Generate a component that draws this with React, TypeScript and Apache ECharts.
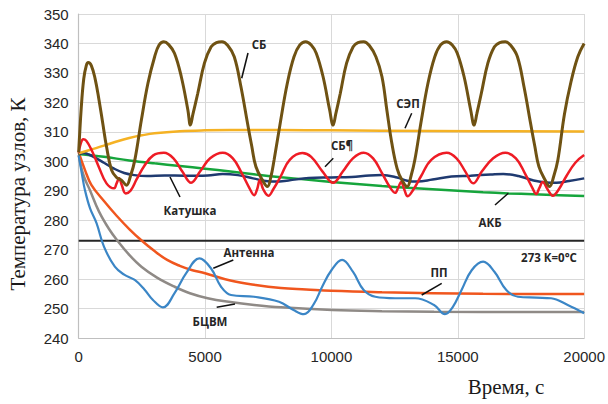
import React, { useEffect, useRef } from "react";
import * as echarts from "echarts";

const xTicks = [0, 5000, 10000, 15000, 20000];
const yTicks = [240, 350, 10];

const sbData = [
  [0, 303], [100, 318], [200, 328], [300, 332.5], [378, 333.5], [500, 332.5], [650, 328], [800, 321], [950, 313],
  [1100, 305], [1300, 297], [1500, 294.5], [1690, 293.6], [1890, 291.9], [2050, 295], [2220, 300.4], [2480, 314],
  [2740, 326.5], [3005, 335.5], [3180, 339.5], [3370, 340.6], [3560, 339.6], [3790, 336.7], [4060, 328.7],
  [4320, 317.4], [4420, 312.3], [4520, 316], [4710, 323], [4975, 333.3], [5240, 338.9], [5450, 340.3], [5670, 340.6],
  [5900, 339.3], [6155, 335.5], [6420, 325.3], [6680, 312.9], [6850, 305], [7010, 298.2], [7270, 293.6], [7468, 291.4],
  [7600, 294.5], [7731, 300.4], [7995, 314], [8255, 326.5], [8519, 335.5], [8750, 339.5], [8980, 340.6], [9200, 339.5],
  [9400, 336.7], [9670, 328.7], [9930, 317.4], [10067, 312.3], [10170, 316], [10350, 323], [10600, 333.3],
  [10860, 338.9], [11050, 340.3], [11276, 340.6], [11500, 339.3], [11760, 335.5], [12000, 328.7], [12200, 317],
  [12391, 306.1], [12600, 297.5], [12780, 293.8], [13000, 291.4], [13150, 295], [13300, 300.4], [13560, 314],
  [13820, 326.5], [14090, 335.5], [14320, 339.5], [14557, 340.6], [14780, 339.5], [14980, 336.7], [15250, 328.7],
  [15510, 317.4], [15648, 312.3], [15750, 316], [15930, 323], [16190, 333.3], [16450, 338.9], [16660, 340.3],
  [16881, 340.6], [17100, 339.3], [17360, 335.5], [17620, 325.3], [17880, 312.9], [18050, 305], [18210, 298.2],
  [18460, 293.6], [18630, 291.4], [18800, 295], [18960, 300.4], [19220, 316], [19480, 327], [19750, 335.5], [20000, 340],
];

const sepData = [
  [0, 302.7], [500, 304], [1000, 305.3], [1500, 306.7], [2000, 307.9], [2500, 308.8], [3000, 309.5], [4000, 310.2],
  [5000, 310.5], [6000, 310.6], [8000, 310.6], [10000, 310.5], [14000, 310.3], [20000, 310.1],
];

const sb2Data = [
  [0, 303], [80, 306], [180, 307.5], [300, 307], [500, 304], [800, 298], [1100, 292.5], [1400, 290.8], [1500, 292.5],
  [1600, 294.2], [1700, 292], [1863, 289.1], [2050, 290], [2300, 294], [2600, 298.5], [2950, 302], [3371, 302.9],
  [3750, 301], [4100, 296.5], [4450, 292.7], [4800, 296.5], [5200, 301], [5700, 302.9], [6100, 301], [6450, 296],
  [6750, 291], [6944, 288.5], [7060, 290.5], [7168, 293.6], [7300, 290.5], [7507, 288.3], [7700, 290.5], [8000, 295],
  [8350, 300.5], [8850, 302.8], [9200, 301.5], [9650, 296.5], [10067, 292.7], [10450, 296.5], [10850, 301],
  [11276, 302.9], [11650, 301], [12000, 296], [12330, 291], [12524, 289.3], [12640, 291], [12760, 293], [12880, 290.5],
  [13020, 288.1], [13250, 290.5], [13550, 295], [13950, 300.5], [14557, 302.9], [14950, 301], [15300, 296.5],
  [15610, 292.5], [15950, 296.5], [16400, 301], [16881, 302.9], [17300, 301], [17650, 296], [17950, 291], [18102, 288.9],
  [18230, 291], [18365, 293], [18550, 290.5], [18759, 288.3], [19000, 290.5], [19300, 295], [19650, 299.5], [20000, 302.1],
];

const coilData = [
  [0, 302.3], [200, 302.8], [400, 302.3], [700, 301], [1000, 299.5], [1400, 297.5], [1800, 296], [2200, 295.3],
  [2700, 295], [3400, 295.2], [4200, 295.1], [5100, 295.2], [5700, 295.7], [6300, 295.3], [6900, 294.2], [7400, 293.3],
  [7800, 293.1], [8300, 293.5], [9110, 294.3], [10000, 294.5], [10800, 294.7], [11500, 295.2], [12000, 295.3],
  [12600, 294.5], [13000, 293.4], [13400, 293.1], [14000, 293.8], [14750, 294.8], [15500, 295.1], [16300, 295.5],
  [16800, 295.7], [17400, 295], [18000, 293.5], [18500, 292.8], [18900, 292.7], [19400, 293.3], [20000, 294.2],
];

const akbData = [
  [0, 302.5], [1000, 301.5], [2000, 300.3], [3000, 299.3], [4000, 298.4], [5000, 297.5], [6000, 296.5], [7000, 295.5],
  [8000, 294.6], [9000, 293.8], [10000, 293], [11000, 292.3], [12000, 291.6], [13000, 291], [14000, 290.5],
  [15000, 290], [16000, 289.5], [17000, 289.1], [18000, 288.8], [19000, 288.5], [20000, 288.2],
];

const ppData = [
  [0, 303], [250, 297], [500, 292], [1000, 286.5], [1500, 281.5], [2000, 277], [2500, 273], [3000, 269.5],
  [3500, 266.5], [4000, 264.5], [4500, 263], [5000, 262], [6000, 259.5], [7000, 258], [8000, 257], [9000, 256.5],
  [10000, 256], [12000, 255.5], [14000, 255.2], [16000, 255], [20000, 254.9],
];

const antennaData = [
  [0, 302], [120, 296], [248, 290.2], [450, 284], [709, 278.9], [1000, 271], [1430, 264.2], [1800, 261.5],
  [2217, 259.7], [2600, 256.5], [2939, 252.9], [3332, 250.4], [3793, 255.2], [4254, 262], [4777, 267], [5238, 263.6],
  [5632, 257.4], [6026, 254.6], [6944, 254], [7928, 252.3], [8500, 249.5], [8913, 248.1], [9300, 251.5],
  [9634, 257.4], [10000, 263], [10421, 266.5], [10850, 262.5], [11276, 256.3], [11737, 254], [12524, 253.5],
  [13312, 253.5], [14061, 251.2], [14494, 248.1], [14800, 250.5], [15150, 256.3], [15550, 263], [16003, 265.9],
  [16450, 262.5], [16920, 256.3], [17381, 254], [18100, 253.7], [18693, 253.5], [19350, 251.2], [20000, 248.4],
];

const bcvmData = [
  [0, 302], [200, 295], [445, 290.2], [800, 283], [1200, 277], [1536, 273], [2000, 268.2], [2481, 264.2],
  [3100, 260.5], [3793, 257.4], [4400, 255.2], [5104, 253.5], [6000, 252.2], [6944, 251.2], [8000, 250.4],
  [10028, 249.5], [12000, 249.1], [14061, 248.9], [20000, 248.8],
];

const zeroLine = [[0, 273], [20000, 273]];

const seriesNames = ["273 К=0°С", "БЦВМ", "ПП", "Антенна", "АКБ", "Катушка", "СЭП", "СБ¶", "СБ"];

export default function App() {
  const ref = useRef<HTMLDivElement>(null);
  useEffect(() => {
    if (!ref.current) return;
    const chart = echarts.init(ref.current, null, { renderer: "svg" });
    const mk = (name: string, data: number[][], color: string, width: number, smooth: number | boolean = 0.4) => ({
      name,
      type: "line",
      data,
      smooth,
      showSymbol: false,
      symbol: "none",
      lineStyle: { color, width },
      itemStyle: { color },
      z: 2,
    });
    const annFont = { fontFamily: "Open Sans", fontWeight: "bold", fontSize: 11.5, fill: "#262626" };
    const txt = (text: string, x: number, y: number) => ({
      type: "text",
      x,
      y,
      style: { text, ...annFont, align: "center", verticalAlign: "middle" },
      z: 100,
    });
    const ln = (x1: number, y1: number, x2: number, y2: number) => ({
      type: "line",
      shape: { x1, y1, x2, y2 },
      style: { stroke: "#111", lineWidth: 1.5 },
      z: 100,
    });
    chart.setOption({
      animation: false,
      backgroundColor: "#ffffff",
      grid: { left: 78.7, right: 21.5, top: 14, bottom: 66, containLabel: false },
      xAxis: {
        type: "value",
        min: xTicks[0],
        max: xTicks[xTicks.length - 1],
        interval: xTicks[1] - xTicks[0],
        axisLine: { show: true, lineStyle: { color: "#bfbfbf", width: 1.2 } },
        axisTick: { show: false },
        splitLine: { show: true, lineStyle: { color: "#d9d9d9", width: 1 } },
        axisLabel: {
          fontFamily: "Liberation Sans",
          fontSize: 15,
          color: "#262626",
          margin: 11,
          formatter: (v: number) => String(v),
        },
      },
      yAxis: {
        type: "value",
        min: yTicks[0],
        max: yTicks[1],
        interval: yTicks[2],
        axisLine: { show: true, lineStyle: { color: "#bfbfbf", width: 1.2 } },
        axisTick: { show: false },
        splitLine: { show: true, lineStyle: { color: "#d9d9d9", width: 1 } },
        axisLabel: {
          fontFamily: "Liberation Sans",
          fontSize: 15,
          color: "#262626",
          margin: 10,
          formatter: (v: number) => String(v),
        },
      },
      series: [
        mk(seriesNames[0], zeroLine, "#262626", 2, false),
        mk(seriesNames[1], bcvmData, "#8f8a86", 2.5),
        mk(seriesNames[2], ppData, "#f0561e", 2.5),
        mk(seriesNames[3], antennaData, "#3b86c6", 2.2),
        mk(seriesNames[4], akbData, "#16a53c", 2.5),
        mk(seriesNames[5], coilData, "#1f3a70", 2.5),
        mk(seriesNames[6], sepData, "#f5b224", 2.5),
        mk(seriesNames[7], sb2Data, "#ee1c25", 2.5),
        mk(seriesNames[8], sbData, "#6f5213", 3),
      ],
      graphic: [
        {
          type: "text",
          x: 18,
          y: 194,
          rotation: Math.PI / 2,
          style: {
            text: "Температура узлов, К",
            fontFamily: "Liberation Serif",
            fontSize: 21,
            fill: "#1a1a1a",
            align: "center",
            verticalAlign: "middle",
          },
        },
        {
          type: "text",
          x: 506,
          y: 387,
          style: {
            text: "Время, с",
            fontFamily: "Liberation Serif",
            fontSize: 21,
            fill: "#1a1a1a",
            align: "center",
            verticalAlign: "middle",
          },
        },
        txt("СБ", 259, 44),
        ln(248, 53, 241.7, 78.3),
        txt("СЭП", 408, 103),
        ln(411.7, 113.3, 405, 128.3),
        txt("СБ¶", 342, 145),
        ln(333.3, 158.3, 325, 166.7),
        txt("Катушка", 190, 210),
        ln(170, 177, 180, 197),
        txt("Антенна", 249, 252),
        ln(233.3, 260, 213.3, 268.3),
        txt("БЦВМ", 210, 321),
        ln(235, 304, 216.7, 307.3),
        txt("АКБ", 490, 222),
        ln(495, 205, 508.3, 193.3),
        txt("273 К=0°С", 549, 257),
        txt("ПП", 439, 272),
        ln(441.7, 283.3, 421.7, 295),
      ],
    });
    return () => chart.dispose();
  }, []);
  return <div ref={ref} style={{ position: "fixed", left: 0, top: 0, width: 608, height: 404 }} />;
}
